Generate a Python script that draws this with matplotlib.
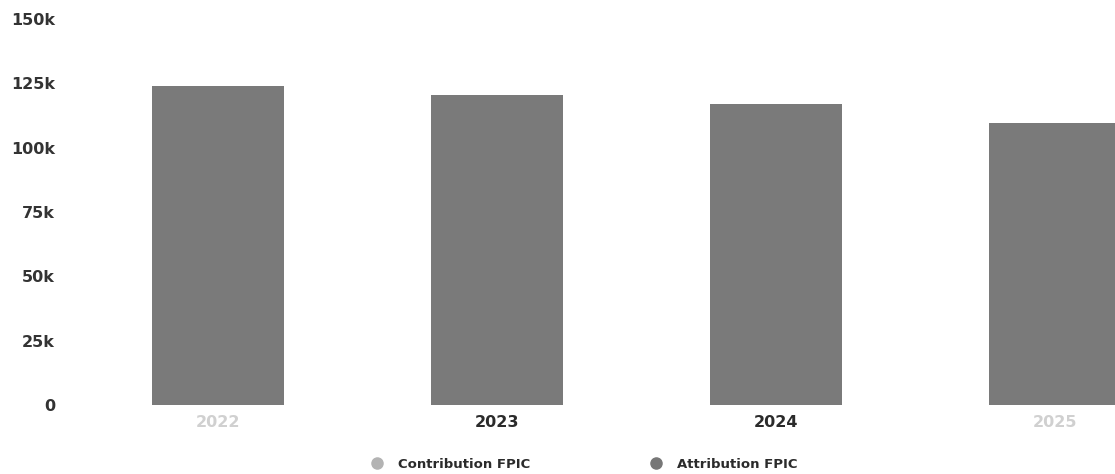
import numpy as np
import matplotlib
matplotlib.use("Agg")
import matplotlib.pyplot as plt
from matplotlib.lines import Line2D
from matplotlib.ticker import FuncFormatter

# values
years = ["2022", "2023", "2024", "2025"]
contribution = [0, 0, 0, 0]
attribution = [124000, 120500, 117000, 109700]
year_colors = ["#d0d0d0", "#2b2b2b", "#2b2b2b", "#d0d0d0"]

plt.rcParams['font.family'] = ['DejaVu Sans']

fig = plt.figure(figsize=(11.15, 4.74), dpi=100)
# axes is wider than the figure: last bar is cut off at the right edge
ax = fig.add_axes([78.5 / 1115, 0.1456, 1116 / 1115, 0.8144])

x = np.arange(len(years))
ax.bar(x, contribution, width=0.47, color="#b3b3b3")
ax.bar(x, attribution, width=0.47, bottom=contribution, color="#7a7a7a")

ax.set_xlim(-0.5, 3.5)
ax.set_ylim(0, 150000)
ax.set_yticks(np.arange(0, 150001, 25000))
ax.yaxis.set_major_formatter(FuncFormatter(lambda v, p: "0" if v == 0 else "%dk" % (v / 1000)))
ax.set_xticks(x)
ax.set_xticklabels(years)
for lbl, c in zip(ax.get_xticklabels(), year_colors):
    lbl.set_color(c)
    lbl.set_fontweight("bold")
    lbl.set_fontsize(11.5)
for lbl in ax.get_yticklabels():
    lbl.set_color("#333333")
    lbl.set_fontweight("bold")
    lbl.set_fontsize(11.5)

ax.tick_params(axis="y", length=0, pad=17)
ax.tick_params(axis="x", length=0, pad=7)
for s in ax.spines.values():
    s.set_visible(False)

handles = [
    Line2D([], [], marker="o", linestyle="", color="#b3b3b3", markersize=8, label="Contribution FPIC"),
    Line2D([], [], marker="o", linestyle="", color="#777777", markersize=8, label="Attribution FPIC"),
]
leg = fig.legend(handles=handles, loc="center", bbox_to_anchor=(0.521, 0.021), ncol=2,
                 frameon=False, handletextpad=0.6, columnspacing=8.5,
                 prop={"weight": "bold", "size": 9.5})
for t in leg.get_texts():
    t.set_color("#2b2b2b")

fig.savefig("out.png", dpi=100, facecolor="white")
